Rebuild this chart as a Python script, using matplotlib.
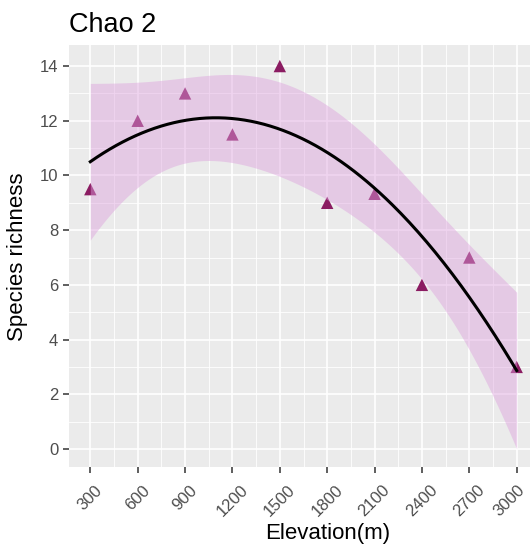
import numpy as np
import matplotlib.pyplot as plt
import matplotlib.transforms as mtransforms

plt.rcParams['font.family'] = ['Liberation Sans', 'DejaVu Sans']

# =========================
# data
# =========================
elevation = np.array([300, 600, 900, 1200, 1500, 1800, 2100, 2400, 2700, 3000])
richness = np.array([9.5, 12, 13, 11.5, 14, 9, 9.33, 6, 7, 3])

x_ticks = [300, 600, 900, 1200, 1500, 1800, 2100, 2400, 2700, 3000]
y_ticks = [0, 2, 4, 6, 8, 10, 12, 14]

# quadratic fit (like geom_smooth(method="lm", formula=y~poly(x,2)))
X = np.column_stack([np.ones_like(elevation, dtype=float), elevation, elevation ** 2])
beta, res, rank, sv = np.linalg.lstsq(X, richness, rcond=None)
resid = richness - X @ beta
dof = len(elevation) - 3
sigma2 = np.sum(resid ** 2) / dof
cov = sigma2 * np.linalg.inv(X.T @ X)
t_crit = 2.3646  # t(0.975, df=7)

xs = np.linspace(elevation.min(), elevation.max(), 200)
Xs = np.column_stack([np.ones_like(xs), xs, xs ** 2])
fit = Xs @ beta
se = np.sqrt(np.einsum('ij,jk,ik->i', Xs, cov, Xs))
lo = fit - t_crit * se
hi = fit + t_crit * se

# =========================
# figure
# =========================
W, H = 530, 547
fig = plt.figure(figsize=(W / 100, H / 100), dpi=100)
fig.patch.set_facecolor('white')

left, right, top, bottom = 69, 538, 45, 467
ax = fig.add_axes([left / W, 1 - bottom / H, (right - left) / W, (bottom - top) / H])
ax.set_facecolor('#EBEBEB')

ax.set_xlim(165, 3135)
ax.set_ylim(-0.66, 14.77)

ax.set_xticks(x_ticks)
ax.set_yticks(y_ticks)
ax.set_xticks(np.arange(450, 3000, 300), minor=True)
ax.set_yticks(np.arange(1, 15, 2), minor=True)

ax.grid(which='major', color='white', linewidth=1.2)
ax.grid(which='minor', color='white', linewidth=0.6)
ax.set_axisbelow(True)
for s in ax.spines.values():
    s.set_visible(False)

ax.tick_params(which='major', length=4.3, width=1.1, color='#333333',
               labelcolor='#4D4D4D', labelsize=12)
ax.tick_params(axis='x', pad=7)
ax.tick_params(axis='y', pad=3.5)
ax.tick_params(which='minor', length=0)
ax.set_xticklabels([str(v) for v in x_ticks], rotation=45, ha='center', va='top')

# keep the last label inside the picture
last = ax.get_xticklabels()[-1]
last.set_transform(last.get_transform() +
                   mtransforms.ScaledTranslation(-7 / 100, 0, fig.dpi_scale_trans))

# layers: points, ribbon, line
ax.scatter(elevation, richness, marker='^', s=80, color='#8B1C62',
           edgecolors='none', zorder=2)
ax.fill_between(xs, lo, hi, color='#DDA0DD', alpha=0.45, linewidth=0, zorder=3)
ax.plot(xs, fit, color='black', linewidth=2.2, zorder=4)

# texts
fig.text(left / W, 1 - 25 / H, 'Chao 2', fontsize=19.5, ha='left', va='center')
fig.text(328 / W, 1 - 533 / H, 'Elevation(m)', fontsize=16, ha='center', va='center')
fig.text(18 / W, 1 - 257 / H, 'Species richness', fontsize=16, ha='center',
         va='center', rotation=90)

fig.savefig('out.png', dpi=100)
